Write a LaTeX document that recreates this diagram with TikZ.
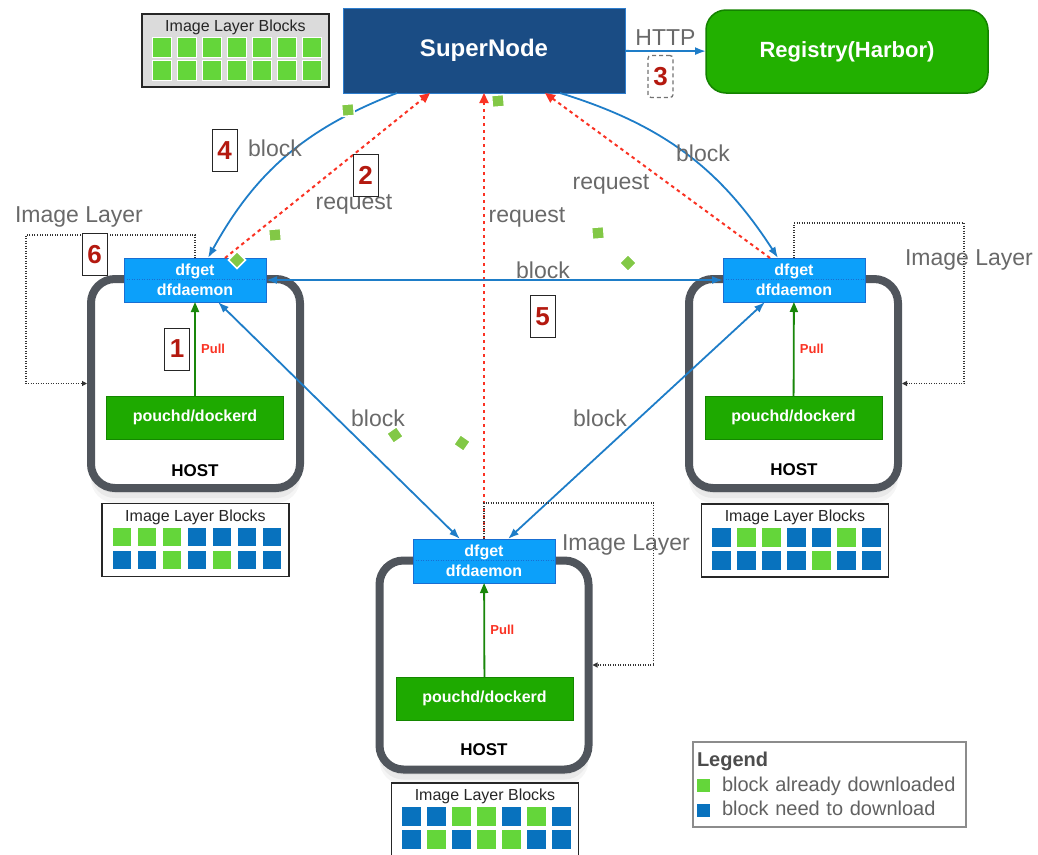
\documentclass[tikz,border=0pt]{standalone}
\usepackage{fontspec}
\setmainfont{Liberation Sans}
\usetikzlibrary{arrows.meta, positioning}

\definecolor{superblue}{RGB}{26,76,132}
\definecolor{superedge}{RGB}{45,125,205}
\definecolor{harborgreen}{RGB}{34,176,0}
\definecolor{harboredge}{RGB}{20,130,0}
\definecolor{dfblue}{RGB}{12,160,250}
\definecolor{dfedge}{RGB}{25,110,210}
\definecolor{dockgreen}{RGB}{30,170,0}
\definecolor{dockedge}{RGB}{20,135,0}
\definecolor{hostgray}{RGB}{80,85,92}
\definecolor{linkblue}{RGB}{30,125,200}
\definecolor{reqred}{RGB}{250,50,35}
\definecolor{pullgreen}{RGB}{25,135,10}
\definecolor{numred}{RGB}{180,25,15}
\definecolor{labelgray}{RGB}{105,105,105}
\definecolor{cellG}{RGB}{100,214,58}
\definecolor{cellB}{RGB}{8,114,190}
\definecolor{chipgreen}{RGB}{130,200,70}

% title and two rows of seven cells inside a block frame
\newcommand{\blockcells}[3]{%
  \node[gridtitle] (#1-t) at ([yshift=-13.5pt]#1.north) {Image Layer Blocks};
  \foreach \c [count=\i from 0] in {#2}
    \node[cell=\c] (#1-a\i) at ([xshift=19.5+25*\i, yshift=-33]#1.north west) {};
  \foreach \c [count=\i from 0] in {#3}
    \node[cell=\c] (#1-b\i) at ([xshift=19.5+25*\i, yshift=-56]#1.north west) {};
}
\newcommand{\swatch}[1]{\textcolor{#1}{\rule[-1pt]{13pt}{13pt}}\hspace{12pt}}

\begin{document}
\begin{tikzpicture}[
  x=1pt, y=-1pt,
  font=\fontsize{23}{27}\selectfont,
  supernode/.style={draw=superedge, line width=1pt, fill=superblue, text=white, font=\fontsize{24}{28}\selectfont\bfseries, minimum width=282pt, minimum height=85pt, outer sep=0pt},
  registry/.style={draw=harboredge, line width=1.5pt, fill=harborgreen, rounded corners=20pt, text=white, font=\fontsize{22}{26}\selectfont\bfseries, minimum width=282pt, minimum height=83pt, outer sep=0pt},
  host/.style={draw=hostgray, line width=8pt, fill=white, rounded corners=24pt, minimum width=209pt, minimum height=209pt, outer sep=0pt,
    preaction={fill=black, fill opacity=0.05, transform canvas={yshift=-5pt}},
    preaction={fill=black, fill opacity=0.05, transform canvas={yshift=-10pt}},
    preaction={fill=black, fill opacity=0.04, transform canvas={yshift=-15pt}}},
  dfget/.style={draw=dfedge, line width=0.8pt, fill=dfblue, text=white, font=\fontsize{16}{19.5}\selectfont\bfseries, align=center, minimum width=142pt, minimum height=44pt, inner sep=0pt, outer sep=0pt},
  daemon/.style={draw=dockedge, line width=0.8pt, fill=dockgreen, text=white, font=\fontsize{16}{19}\selectfont\bfseries, minimum width=177pt, minimum height=43pt, outer sep=0pt},
  seam/.style={draw=dfedge, line width=0.6pt, dash pattern=on 1pt off 1.5pt},
  hosttag/.style={font=\fontsize{17}{20}\selectfont\bfseries},
  pull/.style={draw=pullgreen, line width=1.8pt, -{Triangle[length=10pt,width=8pt]}},
  pulltag/.style={text=reqred, font=\fontsize{13}{15}\selectfont\bfseries},
  link/.style={draw=linkblue, line width=1.8pt, {Latex[length=11pt,width=8pt]}-{Latex[length=11pt,width=8pt]}},
  oneway/.style={draw=linkblue, line width=1.8pt, -{Latex[length=11pt,width=8pt]}},
  request/.style={draw=reqred, line width=2pt, dash pattern=on 3.5pt off 3.5pt, -{Triangle[length=10pt,width=9pt]}},
  layer/.style={draw=black!80, line width=1.1pt, dash pattern=on 1pt off 1.5pt, -{Triangle[length=5pt,width=5pt]}},
  tag/.style={text=labelgray},
  numbox/.style={draw=black!85, line width=1pt, fill=white, text=numred, font=\fontsize{26}{30}\selectfont\bfseries, minimum width=25pt, minimum height=42pt, inner sep=0pt},
  numdash/.style={numbox, draw=black!55, line width=1.3pt, dash pattern=on 4pt off 3pt, rounded corners=3pt},
  grid/.style={draw=black!85, line width=1.5pt, fill=white, minimum width=187pt, minimum height=73pt, outer sep=0pt},
  gridtitle/.style={text=black!85, font=\fontsize{16}{18}\selectfont, inner sep=0pt},
  cell/.style={fill=cell#1, draw=white, line width=0.5pt, minimum size=19.5pt, inner sep=0pt},
  chip/.style={fill=chipgreen, draw=white, line width=1.5pt, minimum size=12pt, inner sep=0pt},
  legendbox/.style={draw=black!45, line width=1.5pt, fill=white, text=black!62, font=\fontsize{20}{24.5}\selectfont, align=left, text width=265pt, minimum height=85pt, inner xsep=4pt}
]
\useasboundingbox (0,0) rectangle (1038,854);

\node[supernode] (sn) at (484,50.5) {SuperNode};
\node[registry] (reg) at (847,51.5) {Registry(Harbor)};

\node[host] (hostL) at (195.5,383.5) {};
\node[host] (hostR) at (793.5,383.5) {};
\node[host] (hostB) at (484,665) {};

\node[dfget] (dfL) at (195,280) {dfget\\dfdaemon};
\node[dfget] (dfR) at (794,280) {dfget\\dfdaemon};
\node[dfget] (dfB) at (484,561) {dfget\\dfdaemon};
\draw[seam] (dfL.west |- hostL.north) -- (dfL.east |- hostL.north);
\draw[seam] (dfR.west |- hostR.north) -- (dfR.east |- hostR.north);
\draw[seam] (dfB.west |- hostB.north) -- (dfB.east |- hostB.north);

\node[daemon] (pdL) at (195,417.5) {pouchd/dockerd};
\node[daemon] (pdR) at (793.5,417.5) {pouchd/dockerd};
\node[daemon] (pdB) at (484.5,698.5) {pouchd/dockerd};

\node[hosttag] (hostL-t) at (195,471) {HOST};
\node[hosttag] (hostR-t) at (794,470) {HOST};
\node[hosttag] (hostB-t) at (484,750) {HOST};

\draw[pull] (pdL) -- (dfL) node[pulltag, midway, right=2pt] (pullL) {Pull} node[numbox, midway, left=5pt] (n1) {1};
\draw[pull] (pdR) -- (dfR) node[pulltag, midway, right=2pt] (pullR) {Pull};
\draw[pull] (pdB) -- (dfB) node[pulltag, midway, right=2pt] (pullB) {Pull};

\draw[oneway] (sn) -- (reg) node[tag, midway, above=1pt] (http) {HTTP};
\node[numdash] (n3) at (660.5,76.5) {3};

\draw[oneway] ([xshift=-87pt]sn.south) to[bend right=20] ([xshift=13pt]dfL.north);
\draw[oneway] ([xshift=76pt]sn.south) to[bend left=20] ([xshift=-16pt]dfR.north);
\draw[request] ([xshift=30pt]dfL.north) -- ([xshift=-54pt]sn.south);
\draw[request] (dfB.north) -- (sn.south);
\draw[request] ([xshift=-24pt]dfR.north) -- ([xshift=61pt]sn.south);

\draw[link] (dfL.east) -- (dfR.west);
\draw[link] ([xshift=23pt]dfL.south) -- ([xshift=-24pt]dfB.north);
\draw[link] ([xshift=-29pt]dfR.south) -- ([xshift=24pt]dfB.north);

\draw[layer] (dfL.north) -- ++(0,-23) -| ([xshift=-65pt]hostL.west) -- ([xshift=-4pt]hostL.west);
\draw[layer] (dfR.north) -- ++(0,-35) -| ([xshift=66pt]hostR.east) -- ([xshift=4pt]hostR.east);
\draw[layer] (dfB.north) -- ++(0,-36) -| ([xshift=65pt]hostB.east) -- ([xshift=4pt]hostB.east);

\node[tag] (layerL) at (79,217) {Image Layer};
\node[tag] (layerR) at (969,260) {Image Layer};
\node[tag] (layerB) at (626,545) {Image Layer};
\node[tag] (blk4) at (275,148) {block};
\node[tag] (req2) at (354,204) {request};
\node[tag] (reqM) at (527,217) {request};
\node[tag] (reqR) at (611,184) {request};
\node[tag] (blkR) at (703,153) {block};
\node[tag] (blk5) at (543,270) {block};
\node[tag] (blkDL) at (378,418) {block};
\node[tag] (blkDR) at (600,418) {block};

\node[numbox] (n4) at (224.5,150.5) {4};
\node[numbox] (n2) at (365.5,175.5) {2};
\node[numbox] (n5) at (542.5,316.5) {5};
\node[numbox] (n6) at (94.5,254.5) {6};

\node[grid, fill=black!14] (gridS) at (235.5,50.5) {};
\blockcells{gridS}{G,G,G,G,G,G,G}{G,G,G,G,G,G,G}
\node[grid] (gridL) at (195.5,540) {};
\blockcells{gridL}{G,G,G,B,B,B,B}{B,B,G,B,G,B,B}
\node[grid] (gridR) at (795,540.5) {};
\blockcells{gridR}{B,G,G,B,B,G,B}{B,B,B,B,G,B,B}
\node[grid] (gridB) at (485,819.5) {};
\blockcells{gridB}{B,B,G,G,B,G,B}{B,G,B,G,G,B,B}

\foreach \x/\y/\a [count=\i] in {348/110/4, 498/101/4, 275/235/4, 237/260/45, 598/233/4, 628/263/45, 395/435/35, 462/443/55}
  \node[chip, rotate=\a] (chip\i) at (\x,\y) {};

\node[legendbox] (legend) at (829.5,784.5) {{\bfseries\color{black!70}Legend}\\\swatch{cellG}block already downloaded\\\swatch{cellB}block need to download};

\end{tikzpicture}
\end{document}
